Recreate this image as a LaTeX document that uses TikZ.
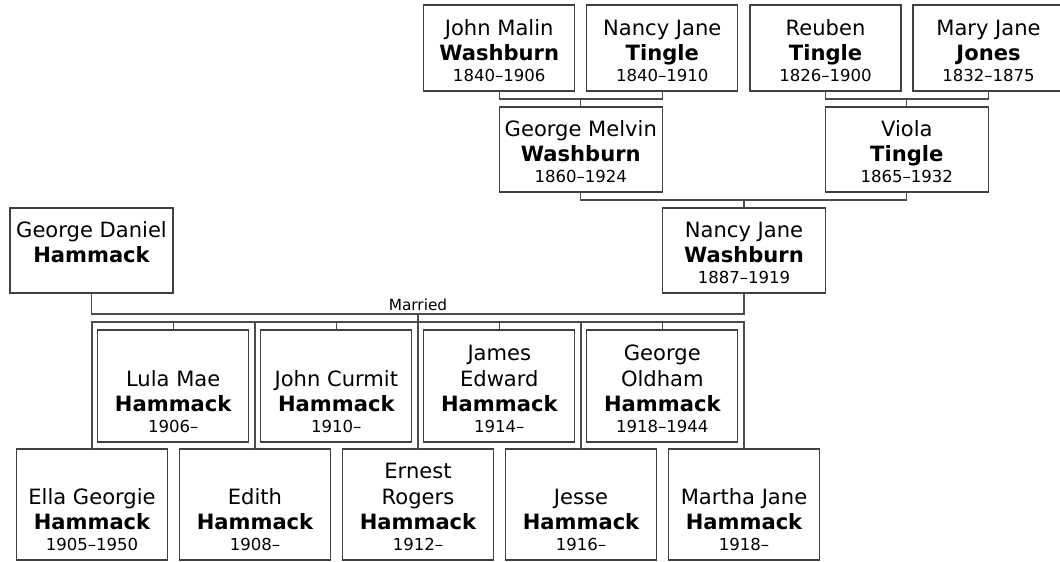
\documentclass[tikz,border=0pt]{standalone}
\usepackage{fontspec}
\setmainfont{DejaVu Sans}
\tikzset{
  pbox/.style={draw=black!75, line width=0.9pt, fill=white, rectangle, inner sep=0pt, outer sep=0pt},
  conn/.style={draw=black!70, line width=0.8pt},
  given/.style={font=\fontsize{15.8}{18}\selectfont, inner sep=0pt, anchor=base},
  surname/.style={font=\bfseries\fontsize{15.8}{18}\selectfont, inner sep=0pt, anchor=base},
  years/.style={font=\fontsize{12.4}{14}\selectfont, inner sep=0pt, anchor=base},
  marr/.style={font=\fontsize{11.5}{13}\selectfont, inner sep=0pt, anchor=base},
}
\newcommand\famperson[8]{%
  \node[pbox, minimum width=#4, minimum height=#5] (#1) at (#2,#3) {};
  \node[given] (#1-g) at ([yshift=42pt]#1.south) {#6};
  \node[surname] (#1-s) at ([yshift=22.9pt]#1.south) {#7};
  \node[years] (#1-y) at ([yshift=7.1pt]#1.south) {#8};
}
\begin{document}
\begin{tikzpicture}[x=0.75pt,y=-0.75pt]
\useasboundingbox (0,0) rectangle (1060,561);

% great-grandparents
\famperson{jm}{499.2}{48}{113.25pt}{64.5pt}{John Malin}{Washburn}{1840–1906}
\famperson{nt}{662.3}{48}{113.25pt}{64.5pt}{Nancy Jane}{Tingle}{1840–1910}
\famperson{rt}{825.5}{48}{113.25pt}{64.5pt}{Reuben}{Tingle}{1826–1900}
\famperson{mj}{988.5}{48}{113.25pt}{64.5pt}{Mary Jane}{Jones}{1832–1875}

% grandparents
\famperson{gm}{580.8}{149.5}{122.25pt}{63.75pt}{George Melvin}{Washburn}{1860–1924}
\famperson{vt}{906.8}{149.5}{122.25pt}{63.75pt}{Viola}{Tingle}{1865–1932}

% parents
\node[pbox, minimum width=122.25pt, minimum height=63.75pt] (gd) at (91.5,250.5) {};
\node[given] (gd-g) at ([yshift=42pt]gd.south) {George Daniel};
\node[surname] (gd-s) at ([yshift=22.9pt]gd.south) {Hammack};
\famperson{nw}{744}{250.5}{122.25pt}{63.75pt}{Nancy Jane}{Washburn}{1887–1919}

% children, upper row
\famperson{lm}{173.2}{386}{113.25pt}{84pt}{Lula Mae}{Hammack}{1906–}
\famperson{jc}{336.3}{386}{113.25pt}{84pt}{John Curmit}{Hammack}{1910–}
\famperson{je}{499.3}{386}{113.25pt}{84pt}{Edward}{Hammack}{1914–}
\node[given] (je-f) at ([yshift=61.5pt]je.south) {James};
\famperson{go}{662.3}{386}{113.25pt}{84pt}{Oldham}{Hammack}{1918–1944}
\node[given] (go-f) at ([yshift=61.5pt]go.south) {George};

% children, lower row
\famperson{eg}{92}{504.5}{113pt}{83.25pt}{Ella Georgie}{Hammack}{1905–1950}
\famperson{ed}{255}{504.5}{113pt}{83.25pt}{Edith}{Hammack}{1908–}
\famperson{er}{418}{504.5}{113pt}{83.25pt}{Rogers}{Hammack}{1912–}
\node[given] (er-f) at ([yshift=61.5pt]er.south) {Ernest};
\famperson{js}{581}{504.5}{113pt}{83.25pt}{Jesse}{Hammack}{1916–}
\famperson{mt}{744}{504.5}{113pt}{83.25pt}{Martha Jane}{Hammack}{1918–}

% connectors
\coordinate (j1) at (580.8,99);
\draw[conn] (jm.south) |- (j1) -| (nt.south);
\draw[conn] (j1) -- (gm.north);
\coordinate (j2) at (906.8,99);
\draw[conn] (rt.south) |- (j2) -| (mj.south);
\draw[conn] (j2) -- (vt.north);
\coordinate (j3) at (744,200);
\draw[conn] (gm.south) |- (j3) -| (vt.south);
\draw[conn] (j3) -- (nw.north);

\coordinate (m) at (418,314);
\draw[conn] (gd.south) |- (m) -| (nw.south);
\node[marr] (mlabel) at (418,310.5) {Married};
\draw[conn] (m) -- (er.north);

\coordinate (busR) at (744,322);
\draw[conn] (eg.north) |- (busR) -- (mt.north);
\draw[conn] (ed.north) -- (ed.north |- busR);
\draw[conn] (js.north) -- (js.north |- busR);
\draw[conn] (lm.north) -- (lm.north |- busR);
\draw[conn] (jc.north) -- (jc.north |- busR);
\draw[conn] (je.north) -- (je.north |- busR);
\draw[conn] (go.north) -- (go.north |- busR);
\end{tikzpicture}
\end{document}
